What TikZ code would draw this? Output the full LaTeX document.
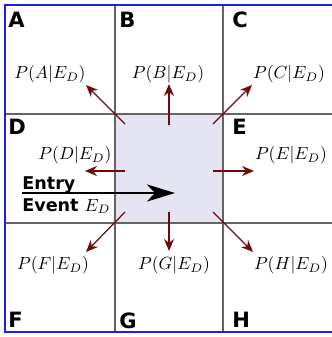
\documentclass[tikz,border=0pt]{standalone}
\usepackage{fontspec}
\usepackage{tikz}
\usetikzlibrary{arrows.meta}
\newfontfamily\cellfont{DejaVu Sans}
\definecolor{gridgray}{RGB}{100,100,100}
\definecolor{borderblue}{RGB}{30,30,230}
\definecolor{shadecell}{RGB}{228,228,242}
\definecolor{arrowred}{RGB}{110,10,10}
\tikzset{
  cellname/.style={
    anchor=north west,
    inner sep=0pt,
    font=\cellfont\bfseries\fontsize{12}{14}\selectfont
  },
  prob/.style={inner sep=1pt, font=\normalsize},
  gridline/.style={draw=gridgray, line width=0.8pt},
  probarrow/.style={-{Stealth[length=2.4mm,width=2mm]}, draw=arrowred, line width=0.7pt},
  entryarrow/.style={-{Stealth[length=5.6mm,width=3.4mm,inset=1.6mm]}, line width=1.7pt}
}

\begin{document}
\begin{tikzpicture}[x=0.02cm, y=-0.02cm]
    \useasboundingbox (0,0) rectangle (331,337);
    % grid of cells, the middle one shaded
    \fill[shadecell] (115,114) rectangle (223,223);
    \draw[gridline] (115,5) -- (115,332) (223,5) -- (223,332);
    \draw[gridline] (5,114) -- (336,114) (5,223) -- (336,223);
    \draw[borderblue, line width=1.2pt] (336,5) -- (5,5) -- (5,332) -- (336,332);
    % cell names
    \node[cellname] (nameA) at (8,12) {A};
    \node[cellname] (nameB) at (119,12) {B};
    \node[cellname] (nameC) at (232,12) {C};
    \node[cellname] (nameD) at (8,119) {D};
    \node[cellname] (nameE) at (232,119) {E};
    \node[cellname] (nameF) at (8,312) {F};
    \node[cellname] (nameG) at (119,312) {G};
    \node[cellname] (nameH) at (232,312) {H};
    % probabilities
    \node[prob] (probA) at (50,74) {$P(A|E_D)$};
    \node[prob] (probB) at (168,74) {$P(B|E_D)$};
    \node[prob] (probC) at (289,74) {$P(C|E_D)$};
    \node[prob] (probD) at (75,155) {$P(D|E_D)$};
    \node[prob] (probE) at (291,155) {$P(E|E_D)$};
    \node[prob] (probF) at (53,265) {$P(F|E_D)$};
    \node[prob] (probG) at (174,265) {$P(G|E_D)$};
    \node[prob] (probH) at (291,265) {$P(H|E_D)$};
    % arrow ends
    \coordinate (fromA) at (125,124);
    \coordinate (toA) at (86,85);
    \coordinate (fromB) at (169,125);
    \coordinate (toB) at (169,84);
    \coordinate (fromC) at (213,124);
    \coordinate (toC) at (252,85);
    \coordinate (fromD) at (125,171);
    \coordinate (toD) at (85,171);
    \coordinate (fromE) at (213,171);
    \coordinate (toE) at (254,171);
    \coordinate (fromF) at (125,212);
    \coordinate (toF) at (86,252);
    \coordinate (fromG) at (169,212);
    \coordinate (toG) at (169,251);
    \coordinate (fromH) at (213,212);
    \coordinate (toH) at (253,252);
    \draw[probarrow] (fromA) -- (toA);
    \draw[probarrow] (fromB) -- (toB);
    \draw[probarrow] (fromC) -- (toC);
    \draw[probarrow] (fromD) -- (toD);
    \draw[probarrow] (fromE) -- (toE);
    \draw[probarrow] (fromF) -- (toF);
    \draw[probarrow] (fromG) -- (toG);
    \draw[probarrow] (fromH) -- (toH);
    % entry event
    \node[anchor=north west, align=left, inner sep=0pt,
      font=\cellfont\bfseries\fontsize{10}{12.5}\selectfont] (entry) at (22,176) {Entry\\Event $E_D$};
    \coordinate (entrystart) at (22,193);
    \coordinate (entryend) at (175,193);
    \draw[entryarrow] (entrystart) -- (entryend);
\end{tikzpicture}
\end{document}
